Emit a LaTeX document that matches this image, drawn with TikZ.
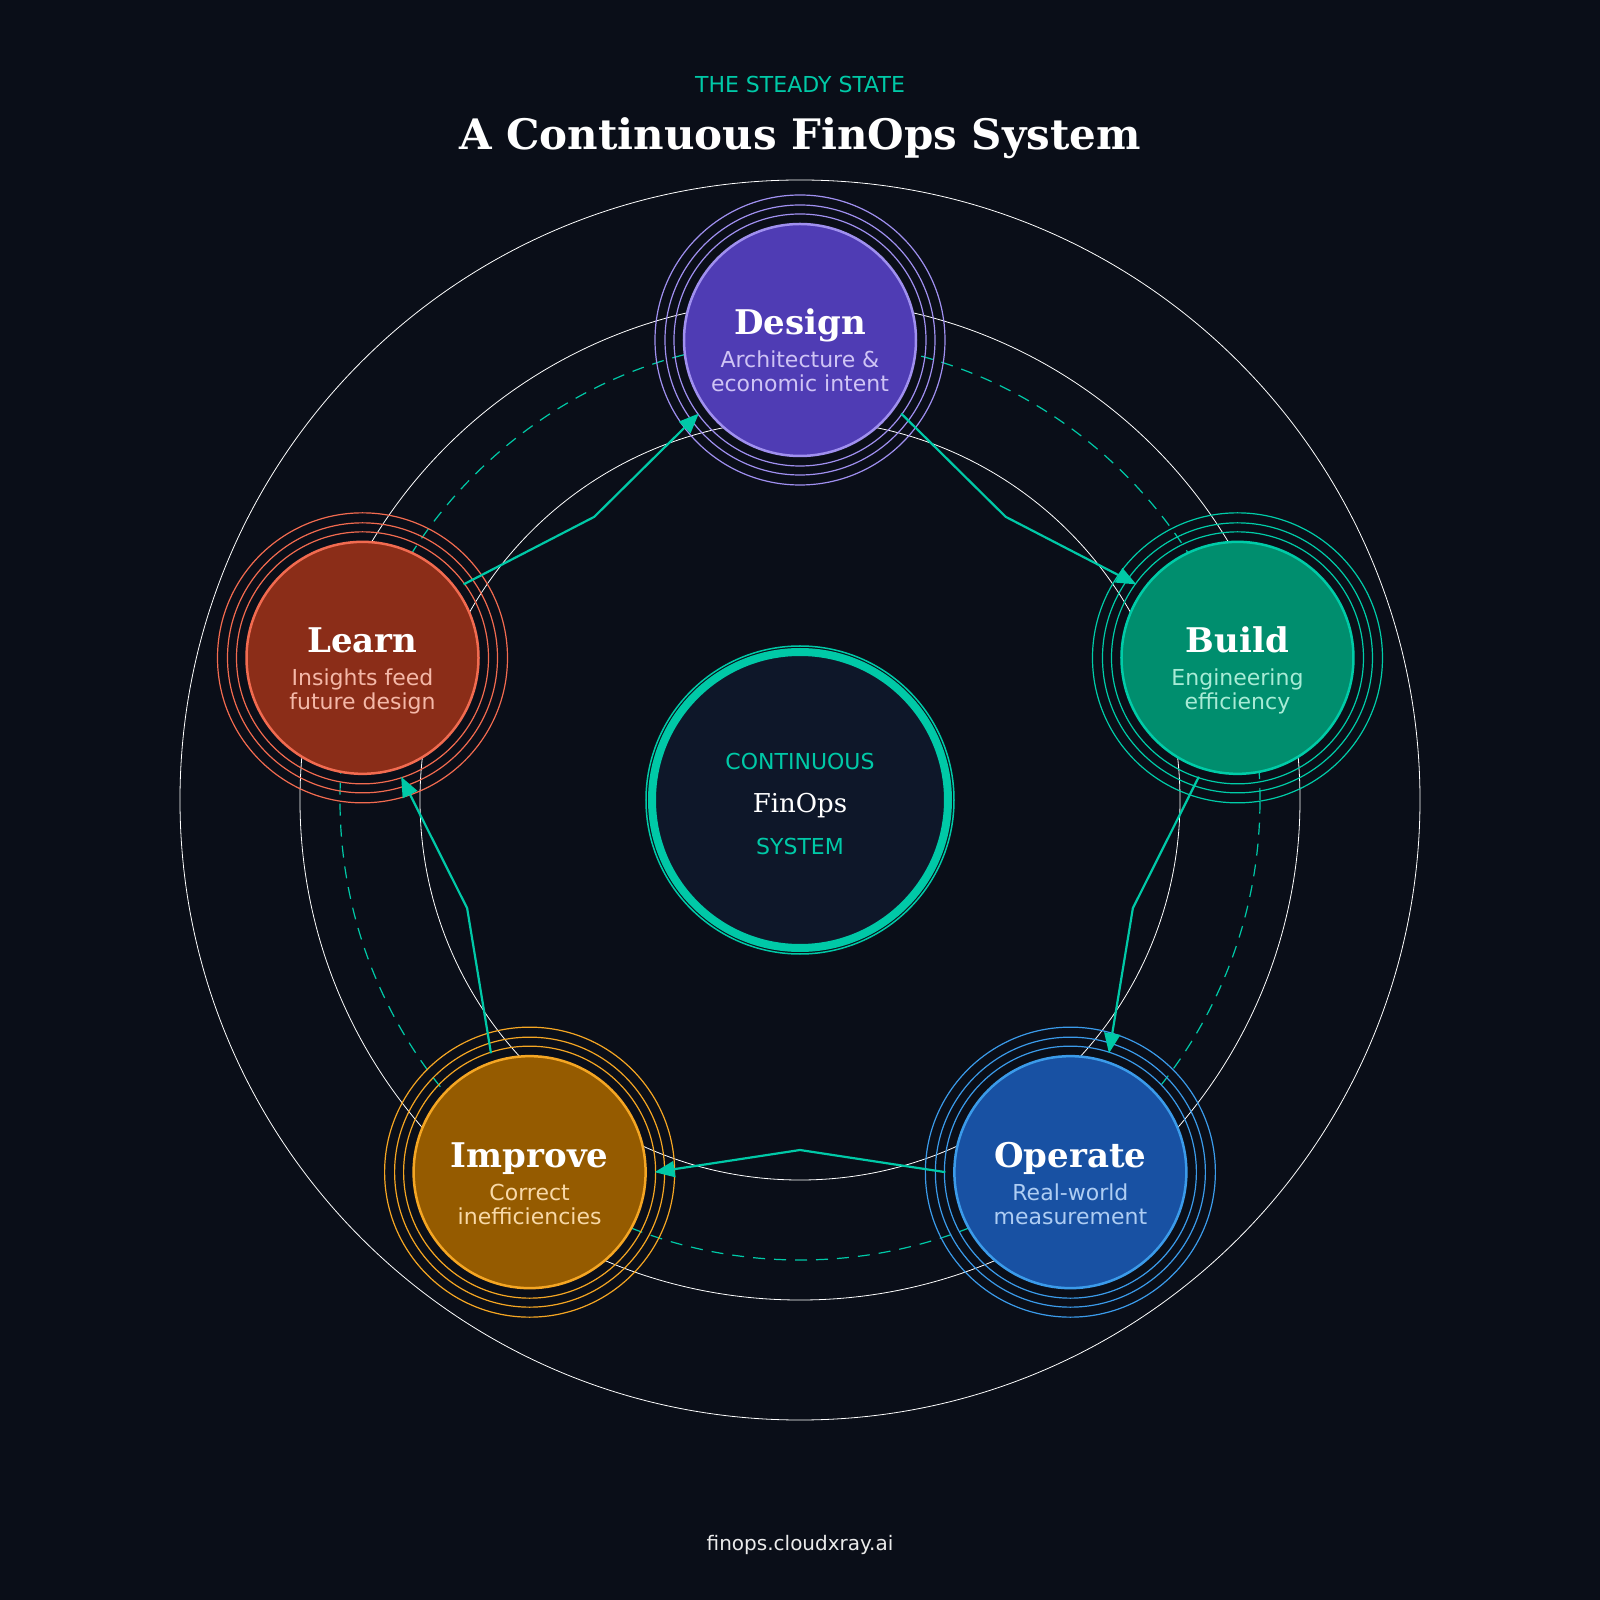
\documentclass[tikz,border=0pt]{standalone}
\usepackage{fontspec}
\setmainfont{DejaVu Serif}
\setsansfont{DejaVu Sans}
\usetikzlibrary{arrows.meta,positioning,calc}
\definecolor{bgnavy}{HTML}{0A0E18}
\definecolor{finteal}{HTML}{00C9A7}
\definecolor{corefill}{HTML}{0E1729}
\definecolor{designfill}{HTML}{4F3CB4}
\definecolor{designline}{HTML}{A090F0}
\definecolor{designtext}{HTML}{CFC4F5}
\definecolor{buildfill}{HTML}{008E6E}
\definecolor{buildline}{HTML}{00CCA8}
\definecolor{buildtext}{HTML}{A8EBD6}
\definecolor{operatefill}{HTML}{1851A3}
\definecolor{operateline}{HTML}{3B9BEA}
\definecolor{operatetext}{HTML}{AECDF3}
\definecolor{improvefill}{HTML}{955B00}
\definecolor{improveline}{HTML}{F5A623}
\definecolor{improvetext}{HTML}{F8D9A8}
\definecolor{learnfill}{HTML}{8B2D18}
\definecolor{learnline}{HTML}{F26B50}
\definecolor{learntext}{HTML}{F4B8A8}

\begin{document}
\begin{tikzpicture}[x=1pt, y=1pt, >={Triangle[length=20pt,width=16pt]},
  phase/.style={circle, inner sep=0pt, minimum size=232pt, line width=2.5pt},
  phasetitle/.style={anchor=base, text=white, font=\bfseries\fontsize{34}{34}\selectfont},
  phasesub/.style={anchor=base, font=\sffamily\fontsize{22}{24}\selectfont},
  coretext/.style={anchor=base, text=finteal, font=\sffamily\fontsize{22}{24}\selectfont},
  guide/.style={white, line width=0.8pt},
  flow/.style={->, finteal, line width=2.2pt, line join=round}]
  \fill[bgnavy] (-800,-800) rectangle (800,800);

  % heading and footer
  \node[coretext] (kicker) at (0,707) {THE STEADY STATE};
  \node[anchor=base, text=white, font=\bfseries\fontsize{42}{42}\selectfont] (title) at (0,650) {A Continuous FinOps System};
  \node[anchor=base, text=white!92!black, font=\sffamily\fontsize{20}{22}\selectfont] (site) at (0,-750) {finops.cloudxray.ai};

  % orbits
  \foreach \r in {380,500,620}
    {\draw[guide] (0,0) circle (\r);}
  \draw[finteal, line width=1.2pt, dash pattern=on 12pt off 9pt] (0,0) circle (460);

  % centre
  \node[phase, minimum size=296pt, fill=corefill, draw=finteal, line width=8pt] (core) at (0,0) {};
  \draw[finteal, line width=1.5pt] (core) circle (154);
  \node[coretext] (core-a) at (0,30) {CONTINUOUS};
  \node[anchor=base, text=white, font=\fontsize{26}{26}\selectfont] (core-b) at (0,-13) {FinOps};
  \node[coretext] (core-c) at (0,-55) {SYSTEM};

  % phases
  \foreach \name/\ang/\ttl/\subA/\subB in {design/90/Design/Architecture \&/economic intent,
      build/18/Build/Engineering/efficiency, operate/-54/Operate/Real-world/measurement,
      improve/-126/Improve/Correct/inefficiencies, learn/162/Learn/Insights feed/future design}
    {\node[phase, fill=\name fill, draw=\name line] (\name) at (\ang:460) {};
     \foreach \r in {126,135,145}
       {\draw[\name line, line width=1.2pt] (\name) circle (\r);}
     \node[phasetitle] (\name-t) at ($(\name)+(0,5)$) {\ttl};
     \node[phasesub, text=\name text] (\name-a) at ($(\name)+(0,-28)$) {\subA};
     \node[phasesub, text=\name text] (\name-b) at ($(\name)+(0,-52)$) {\subB};}

  % flows between phases
  \foreach \from/\to/\mid in {design/build/54, build/operate/-18, operate/improve/-90,
      improve/learn/198, learn/design/126}
    {\coordinate (\from-bend) at (\mid:350);
     \draw[flow] ($(\from)!125pt!(\to)$) -- (\from-bend) -- ($(\to)!125pt!(\from)$);}
\end{tikzpicture}
\end{document}
